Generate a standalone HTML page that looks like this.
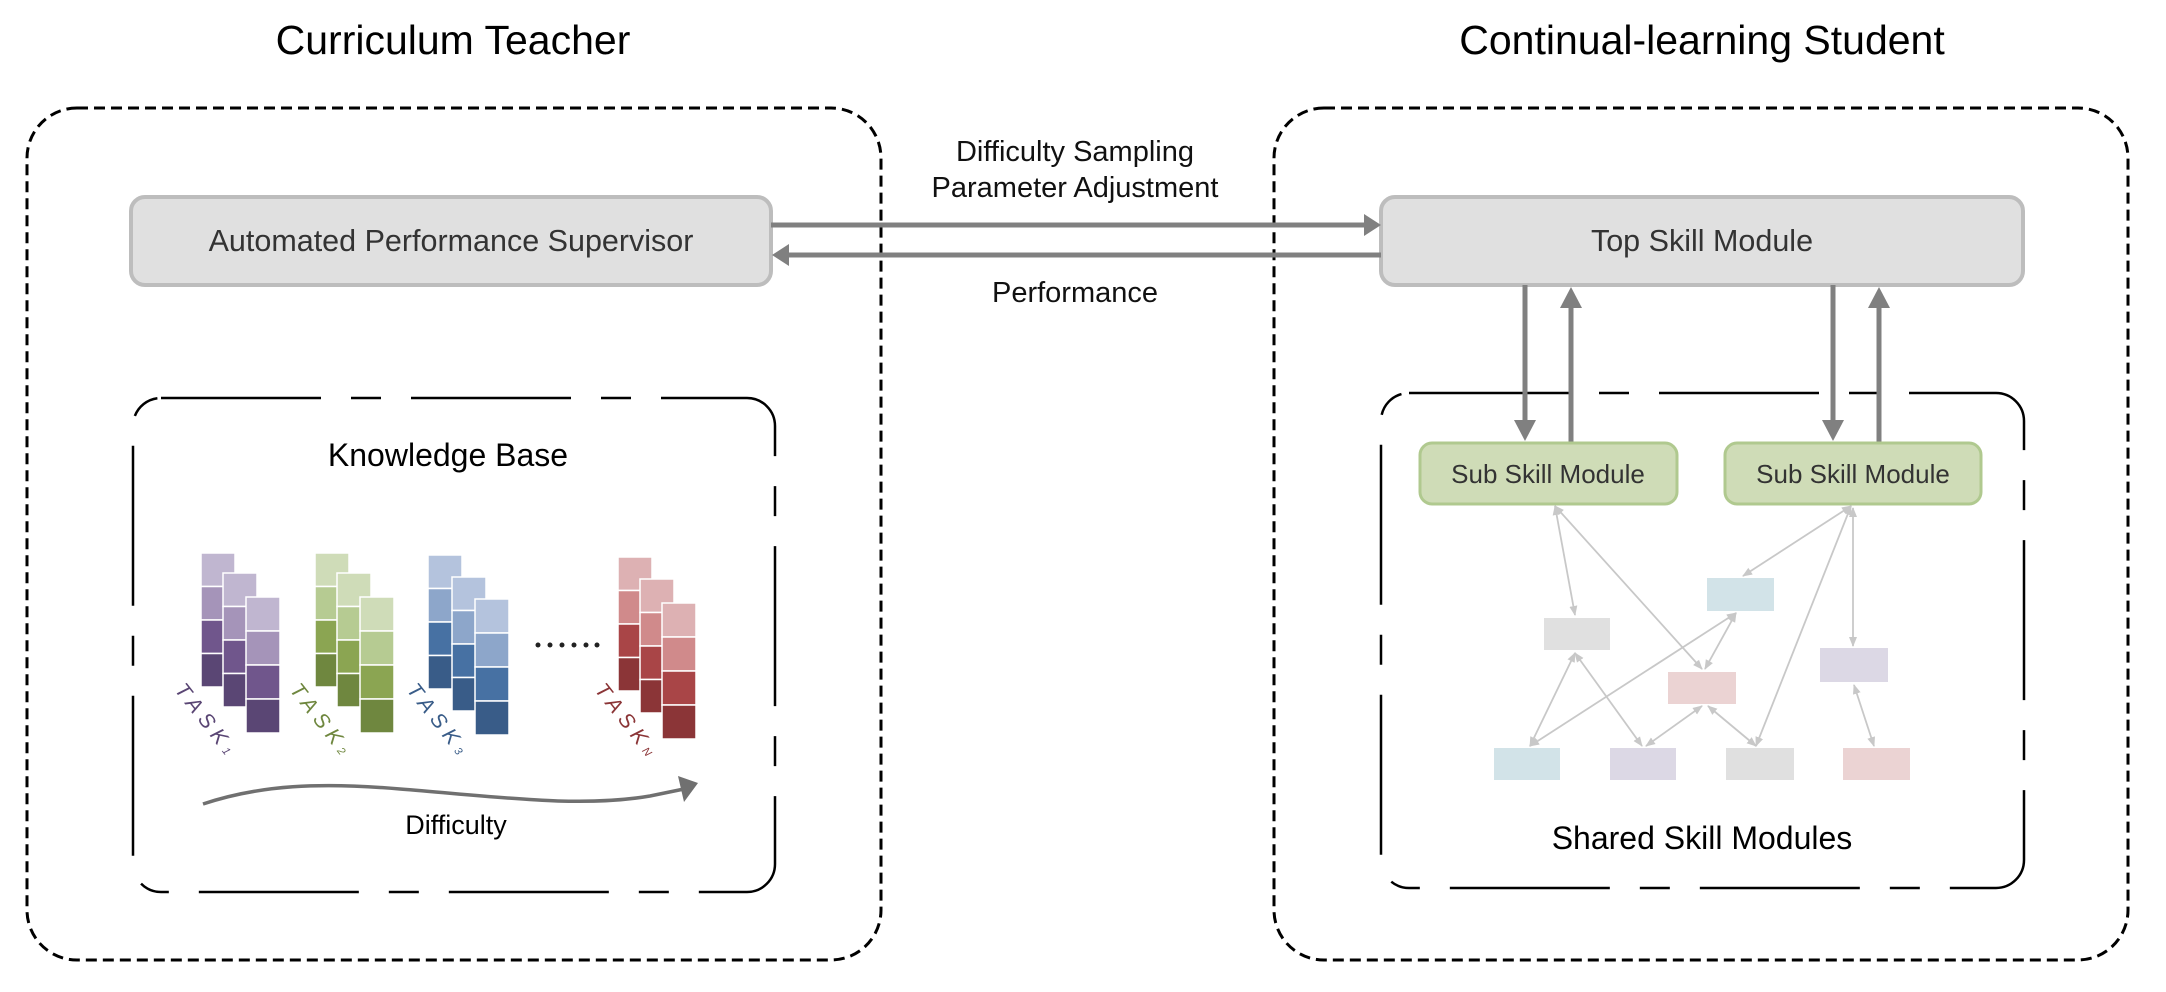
<!DOCTYPE html>
<html><head><meta charset="utf-8"><style>
html,body{margin:0;padding:0;background:#fff;}
svg{display:block;}
text{font-family:"Liberation Sans","DejaVu Sans",sans-serif;}
</style></head><body>
<svg width="2166" height="992" viewBox="0 0 2166 992" xmlns="http://www.w3.org/2000/svg">
<defs>
<marker id="sa" markerWidth="10" markerHeight="10" refX="9" refY="5" orient="auto-start-reverse" markerUnits="userSpaceOnUse">
<path d="M0,1 L10,5 L0,9 Z" fill="#c8c8c8"/></marker>
</defs>
<!-- titles -->
<text x="453" y="54" font-size="41" text-anchor="middle" fill="#000">Curriculum Teacher</text>
<text x="1702" y="54" font-size="41" text-anchor="middle" fill="#000">Continual-learning Student</text>
<!-- outer boxes -->
<rect x="27" y="108" width="854" height="852" rx="50" fill="none" stroke="#000" stroke-width="3" stroke-dasharray="11 6"/>
<rect x="1274" y="108" width="854" height="852" rx="50" fill="none" stroke="#000" stroke-width="3" stroke-dasharray="11 6"/>
<!-- inner boxes -->
<rect x="133" y="398" width="642" height="494" rx="28" fill="none" stroke="#000" stroke-width="2.5" stroke-dasharray="160 30 30 30"/>
<rect x="1381" y="393" width="643" height="495" rx="28" fill="none" stroke="#000" stroke-width="2.5" stroke-dasharray="160 30 30 30"/>
<!-- APS -->
<rect x="131" y="197" width="640" height="88" rx="14" fill="#e0e0e0" stroke="#bdbdbd" stroke-width="4"/>
<text x="451" y="251" font-size="30.5" text-anchor="middle" fill="#333">Automated Performance Supervisor</text>
<!-- Top skill -->
<rect x="1381" y="197" width="642" height="88" rx="14" fill="#e0e0e0" stroke="#bdbdbd" stroke-width="4"/>
<text x="1702" y="251" font-size="30.5" text-anchor="middle" fill="#333">Top Skill Module</text>
<!-- horizontal arrows -->
<line x1="771" y1="225" x2="1366" y2="225" stroke="#808080" stroke-width="5"/>
<path d="M1364,214 L1381,225 L1364,236 Z" fill="#808080"/>
<line x1="1381" y1="255" x2="787" y2="255" stroke="#808080" stroke-width="5"/>
<path d="M789,244 L772,255 L789,266 Z" fill="#808080"/>
<text x="1075" y="161" font-size="29" text-anchor="middle" fill="#111">Difficulty Sampling</text>
<text x="1075" y="197" font-size="29" text-anchor="middle" fill="#111">Parameter Adjustment</text>
<text x="1075" y="302" font-size="29" text-anchor="middle" fill="#111">Performance</text>
<!-- vertical arrows -->
<line x1="1525" y1="285" x2="1525" y2="424" stroke="#808080" stroke-width="5"/>
<path d="M1514,420 L1525,441 L1536,420 Z" fill="#808080"/>
<line x1="1571" y1="443" x2="1571" y2="304" stroke="#808080" stroke-width="5"/>
<path d="M1560,308 L1571,287 L1582,308 Z" fill="#808080"/>
<line x1="1833" y1="285" x2="1833" y2="424" stroke="#808080" stroke-width="5"/>
<path d="M1822,420 L1833,441 L1844,420 Z" fill="#808080"/>
<line x1="1879" y1="443" x2="1879" y2="304" stroke="#808080" stroke-width="5"/>
<path d="M1868,308 L1879,287 L1890,308 Z" fill="#808080"/>
<!-- sub skill -->
<rect x="1420" y="443" width="257" height="61" rx="12" fill="#cfdcb7" stroke="#b0c98f" stroke-width="3"/>
<text x="1548" y="483" font-size="26" text-anchor="middle" fill="#333">Sub Skill Module</text>
<rect x="1725" y="443" width="256" height="61" rx="12" fill="#cfdcb7" stroke="#b0c98f" stroke-width="3"/>
<text x="1853" y="483" font-size="26" text-anchor="middle" fill="#333">Sub Skill Module</text>
<!-- small modules -->
<rect x="1544" y="618" width="66" height="32" fill="#e0e0e0"/>
<rect x="1707" y="578" width="67" height="33" fill="#d2e3e8"/>
<rect x="1668" y="672" width="68" height="32" fill="#ebd3d3"/>
<rect x="1820" y="648" width="68" height="34" fill="#dcd8e5"/>
<rect x="1494" y="748" width="66" height="32" fill="#d2e3e8"/>
<rect x="1610" y="748" width="66" height="32" fill="#dcd8e5"/>
<rect x="1726" y="748" width="68" height="32" fill="#e0e0e0"/>
<rect x="1843" y="748" width="67" height="32" fill="#ebd3d3"/>
<g stroke="#c8c8c8" stroke-width="1.8" fill="none" marker-start="url(#sa)" marker-end="url(#sa)">
<line x1="1555" y1="506" x2="1575" y2="615"/>
<line x1="1555" y1="506" x2="1702" y2="669"/>
<line x1="1851" y1="506" x2="1743" y2="576"/>
<line x1="1851" y1="506" x2="1756" y2="746"/>
<line x1="1853" y1="508" x2="1853" y2="646"/>
<line x1="1736" y1="613" x2="1705" y2="669"/>
<line x1="1736" y1="613" x2="1530" y2="746"/>
<line x1="1575" y1="653" x2="1530" y2="746"/>
<line x1="1575" y1="653" x2="1642" y2="746"/>
<line x1="1702" y1="706" x2="1646" y2="746"/>
<line x1="1708" y1="706" x2="1756" y2="746"/>
<line x1="1854" y1="685" x2="1874" y2="746"/>
</g>
<text x="1702" y="849" font-size="32" text-anchor="middle" fill="#000">Shared Skill Modules</text>
<!-- knowledge base -->
<text x="448" y="466" font-size="32" text-anchor="middle" fill="#000">Knowledge Base</text>
<g stroke="#fff" stroke-width="1.5">
<rect x="201" y="553" width="34" height="33.5" fill="#c0b6d0"/><rect x="201" y="586.5" width="34" height="33.5" fill="#a594b9"/><rect x="201" y="620" width="34" height="33.5" fill="#70568c"/><rect x="201" y="653.5" width="34" height="33.5" fill="#5a4674"/>
<rect x="223" y="573" width="34" height="33.5" fill="#c0b6d0"/><rect x="223" y="606.5" width="34" height="33.5" fill="#a594b9"/><rect x="223" y="640" width="34" height="33.5" fill="#70568c"/><rect x="223" y="673.5" width="34" height="33.5" fill="#5a4674"/>
<rect x="246" y="597" width="34" height="34" fill="#c0b6d0"/><rect x="246" y="631" width="34" height="34" fill="#a594b9"/><rect x="246" y="665" width="34" height="34" fill="#70568c"/><rect x="246" y="699" width="34" height="34" fill="#5a4674"/>
<rect x="315" y="553" width="34" height="33.5" fill="#cfdcb8"/><rect x="315" y="586.5" width="34" height="33.5" fill="#b6cb92"/><rect x="315" y="620" width="34" height="33.5" fill="#8ba552"/><rect x="315" y="653.5" width="34" height="33.5" fill="#6f873f"/>
<rect x="337" y="573" width="34" height="33.5" fill="#cfdcb8"/><rect x="337" y="606.5" width="34" height="33.5" fill="#b6cb92"/><rect x="337" y="640" width="34" height="33.5" fill="#8ba552"/><rect x="337" y="673.5" width="34" height="33.5" fill="#6f873f"/>
<rect x="360" y="597" width="34" height="34" fill="#cfdcb8"/><rect x="360" y="631" width="34" height="34" fill="#b6cb92"/><rect x="360" y="665" width="34" height="34" fill="#8ba552"/><rect x="360" y="699" width="34" height="34" fill="#6f873f"/>
<rect x="428" y="555" width="34" height="33.5" fill="#b4c3dd"/><rect x="428" y="588.5" width="34" height="33.5" fill="#8da6ca"/><rect x="428" y="622" width="34" height="33.5" fill="#4771a3"/><rect x="428" y="655.5" width="34" height="33.5" fill="#395c88"/>
<rect x="452" y="577" width="34" height="33.5" fill="#b4c3dd"/><rect x="452" y="610.5" width="34" height="33.5" fill="#8da6ca"/><rect x="452" y="644" width="34" height="33.5" fill="#4771a3"/><rect x="452" y="677.5" width="34" height="33.5" fill="#395c88"/>
<rect x="475" y="599" width="34" height="34" fill="#b4c3dd"/><rect x="475" y="633" width="34" height="34" fill="#8da6ca"/><rect x="475" y="667" width="34" height="34" fill="#4771a3"/><rect x="475" y="701" width="34" height="34" fill="#395c88"/>
<rect x="618" y="557" width="34" height="33.5" fill="#ddb1b3"/><rect x="618" y="590.5" width="34" height="33.5" fill="#d08a8b"/><rect x="618" y="624" width="34" height="33.5" fill="#a94547"/><rect x="618" y="657.5" width="34" height="33.5" fill="#8b3537"/>
<rect x="640" y="579" width="34" height="33.5" fill="#ddb1b3"/><rect x="640" y="612.5" width="34" height="33.5" fill="#d08a8b"/><rect x="640" y="646" width="34" height="33.5" fill="#a94547"/><rect x="640" y="679.5" width="34" height="33.5" fill="#8b3537"/>
<rect x="662" y="603" width="34" height="34" fill="#ddb1b3"/><rect x="662" y="637" width="34" height="34" fill="#d08a8b"/><rect x="662" y="671" width="34" height="34" fill="#a94547"/><rect x="662" y="705" width="34" height="34" fill="#8b3537"/>
</g>
<g fill="#222"><circle cx="538" cy="645" r="2.5"/><circle cx="550" cy="645" r="2.5"/><circle cx="562" cy="645" r="2.5"/><circle cx="574" cy="645" r="2.5"/><circle cx="586" cy="645" r="2.5"/><circle cx="597" cy="645" r="2.5"/></g>
<g font-family="Liberation Serif,serif" font-style="italic" font-size="21" letter-spacing="6">
<text transform="translate(174,690) rotate(52)" fill="#5a4674">TASK<tspan font-size="11">1</tspan></text>
<text transform="translate(289,690) rotate(52)" fill="#6f873f">TASK<tspan font-size="11">2</tspan></text>
<text transform="translate(406,690) rotate(52)" fill="#395c88">TASK<tspan font-size="11">3</tspan></text>
<text transform="translate(594,690) rotate(52)" fill="#8b3537">TASK<tspan font-size="11">N</tspan></text>
</g>
<path d="M203,804 C260,785 320,782 400,789 C500,797 580,808 650,796 L684,789" fill="none" stroke="#707070" stroke-width="3.5"/>
<path d="M678,776 L698,783 L684,802 Z" fill="#707070"/>
<text x="456" y="834" font-size="27" text-anchor="middle" fill="#000">Difficulty</text>
</svg>
</body></html>
